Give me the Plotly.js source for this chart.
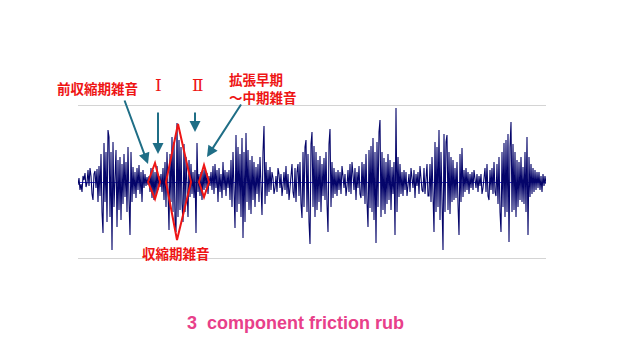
<!DOCTYPE html>
<html>
<head>
<meta charset="utf-8">
<script src="https://cdn.plot.ly/plotly-3.0.1.min.js"></script>
<style>html,body{margin:0;padding:0;background:#fff;}#chart{width:624px;height:356px;}</style>
</head>
<body>
<div id="chart"></div>
<script>
// Waveform amplitude samples (one sample per time step)
const quietStart = [-3,4,-8,-2,-10,6,2,9,-5,-1,12,-4,14,6,-12,-18,8,11,-6,13,-20,16];
const burst1 = [-14,28,-30,-51,39,-20,30,-40,52,45,-35,30,-68,40,-25,20,32,-45,22,-28,25,-38,18,-22,28,-15,20,-30,35,-18,-53,30,-20,15,-12,10];
const preSystolic = [-16,14,-8,17,-12,10,-20,12,-6,8,-4,5,-3,6,-10,14,-16,12,-18,10,-14,16,-8,6,-5];
const systolic = [8,-10,14,-18,20,-25,30,-32,-48,28,-20,45,-30,40,-38,-50,59,-35,42,-28,35,-22,-40,38,-30,25,-20,-35,22,-15,18,-12,10,-16,12,-51,39,-10];
const diastolic = [8,-14,10,-18,12,-8,14,-6,9,-12,6,-4,10,-8,16,-12,18,-6,12,-20,14,-10,8,-16,20,-8,12,-14,10,-6];
const burst3 = [12,-18,22,-25,30,-20,-46,47,-30,35,-22,28,-35,44,-56,30,-40,49,-20,32,-28,22,-32,26,-18,20,-25,15,-12,18,-20,25,-15,-33,30,56,-22,20,-14,12,-10,15];
const quiet3 = [-8,10,4,-12,-6,6,-10,14,8,-6,8,-14,-4,10,-8,16,-12,8,-18,-6,12,18,-10,-16,14,-20,10,18];
const burst4 = [-14,20,-22,-36,30,-25,35,42,-30,28,-40,-62,38,50,-25,36,-35,30,-28,22,-20,26,-30,18,-14,24,-18,30,-22,-50,38,53,-25,20,-16,14,-12,10,-14,12];
const quiet4 = [-8,10,-12,16,6,-6,8,-14,-4,12,-10,18,-12,20,8,-8,14,-18,10,-6,16,-12,-16,20];
const burst5 = [-14,18,-22,28,-20,-45,32,-26,36,-30,44,-38,30,-61,40,-25,50,62,-35,30,-28,24,-32,20,-22,28,-18,22,-28,15,-12,20,-53,74,-30,25,-15,18,-12,10,-14,12,-8];
const quiet5 = [10,-14,-6,8,-10,14,4,-6,12,-16,8,-4,10,-12,16,6,-8,-10,14,-12,8,18,-14];
const burst6 = [-14,18,-20,25,-28,-50,40,-30,35,-25,52,-38,30,-45,-68,48,-30,40,47,-28,30,-32,25,-20,22,-18,14,-16,20,-22,-53,28,-20,34,-15,12,-10,14,-8,10,-12,8,-6,10];
const quiet6 = [-8,12,4,-6,8,-10,6,-4,8,-12,-6,10,14,-10,18,-14,-18,12,-8,14,-12,20,-10,-14];
const burst7 = [18,-22,25,-30,-50,30,-25,39,-35,42,-30,48,-60,35,60,-30,38,-28,30,-35,22,-25,20,-18,25,-20,15,-22,30,-30,45,-53,25,-15,18,-12,14,-10,12,-8,10];
const tail = [-6,10,-8,6,-10,8,-4,6,-2];

const gridLevels = [-76, 77];

const amp = [].concat(quietStart, burst1, preSystolic, systolic, diastolic, burst3, quiet3,
  burst4, quiet4, burst5, quiet5, burst6, quiet6, burst7, tail);
const t = amp.map((_, i) => i);

// Diamond outlines (time index, amplitude) marking murmur phases
const diamonds = [
  [[70,0],[77,19],[82,0],[77,-17]],
  [[88,0],[100,58],[113,0],[99,-58]],
  [[121,0],[126,17],[131,0],[126,-15]]
];

const red = '#ee1515';
const teal = '#1f6e86';
const jpFont = {family: '"Noto Sans CJK JP", sans-serif', size: 13.5, color: red, weight: 'bold'};

const shapes = diamonds.map(d => ({
  type: 'path', xref: 'x', yref: 'y',
  path: 'M' + d.map(p => p[0] + ',' + p[1]).join('L') + 'Z',
  line: {color: red, width: 2}, layer: 'above'
}));

function arrow(x, y, ax, ay) {
  return {x: x, y: y, xref: 'x', yref: 'y', ax: ax, ay: ay, axref: 'pixel', ayref: 'pixel',
    text: '', showarrow: true, arrowhead: 2, arrowsize: 1.1, arrowwidth: 2, arrowcolor: teal};
}
function label(text, x, y, xanchor, font, align) {
  return {text: text, x: x, y: y, xref: 'paper', yref: 'paper', xanchor: xanchor, yanchor: 'middle',
    align: align || 'center', showarrow: false, font: font};
}

const annotations = [
  arrow(70, 18, -24, -65),
  arrow(80, 28, 0, -43),
  arrow(117, 50, 0, -21),
  arrow(129, 25, 35, -54),
  label('前収縮期雑音', 0.0427, 1.0736, 'center', jpFont),
  label('Ⅰ', 0.173, 1.092, 'center', {family: '"DejaVu Serif", serif', size: 17, color: red}),
  label('Ⅱ', 0.2564, 1.092, 'center', {family: '"DejaVu Serif", serif', size: 17, color: red}),
  label('拡張早期<br>～中期雑音', 0.3184, 1.0736, 'left', jpFont, 'left'),
  label('収縮期雑音', 0.2094, 0.0613, 'center', jpFont)
];

const data = [{
  x: t, y: amp, type: 'scatter', mode: 'lines',
  line: {color: '#05056a', width: 1.1}, hoverinfo: 'skip'
}];

const layout = {
  width: 624, height: 356,
  margin: {l: 78, r: 78, t: 100, b: 93, pad: 0},
  paper_bgcolor: '#ffffff', plot_bgcolor: '#ffffff',
  showlegend: false,
  title: {text: '3\u00a0 component friction rub', x: 0.4736, xanchor: 'center', y: 0.093, yanchor: 'middle',
    font: {family: '"Liberation Sans", Arial, sans-serif', size: 18, color: '#e8408a', weight: 'bold'}},
  xaxis: {range: [0, amp.length - 1], showgrid: false, zeroline: false, showticklabels: false,
    ticks: '', showline: false, fixedrange: true},
  yaxis: {range: [-81, 82], tickvals: gridLevels, showgrid: true, gridcolor: '#d4d4d4', gridwidth: 1,
    zeroline: true, zerolinecolor: '#3a3ad0', zerolinewidth: 1, showticklabels: false, ticks: '',
    showline: false, fixedrange: true},
  shapes: shapes,
  annotations: annotations
};

Plotly.newPlot('chart', data, layout, {displayModeBar: false, staticPlot: true});
</script>
</body>
</html>
